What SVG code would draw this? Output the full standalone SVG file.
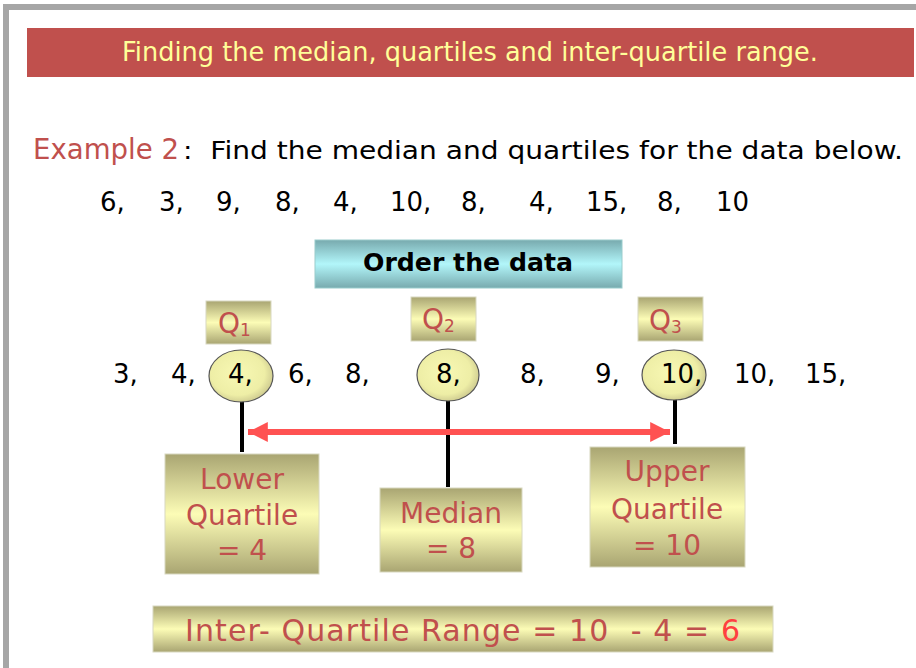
<svg xmlns="http://www.w3.org/2000/svg" width="916" height="668" viewBox="0 0 916 668">
<defs>
<linearGradient id="khaki" x1="0" y1="0" x2="0" y2="1">
<stop offset="0" stop-color="#A9A572"/>
<stop offset="0.5" stop-color="#FCFCB6"/>
<stop offset="1" stop-color="#A9A572"/>
</linearGradient>
<linearGradient id="teal" x1="0" y1="0" x2="0" y2="1">
<stop offset="0" stop-color="#78AAAE"/>
<stop offset="0.5" stop-color="#B2F6FA"/>
<stop offset="1" stop-color="#78AAAE"/>
</linearGradient>
<radialGradient id="oval" cx="0.45" cy="0.45" r="0.6">
<stop offset="0" stop-color="#F8F8B4"/>
<stop offset="0.7" stop-color="#EEEEA6"/>
<stop offset="1" stop-color="#C8C48C"/>
</radialGradient>
<marker id="ah" viewBox="0 0 10 10" refX="10" refY="5" markerWidth="3.3" markerHeight="3.3" orient="auto-start-reverse" markerUnits="strokeWidth">
<path d="M0,0 L10,5 L0,10 Z" fill="#FF5252"/>
</marker>
</defs>
<style>
text{font-family:"DejaVu Sans","Liberation Sans",sans-serif;}
.blk{fill:#000;font-size:26px;}
.red{fill:#C0504D;}
.box{fill:url(#khaki);stroke:#D8D8C0;stroke-width:1;}
.ov{fill:url(#oval);stroke:#555;stroke-width:1.2;}
.stem{stroke:#000;stroke-width:4;fill:none;}
.lbl{fill:#C0504D;font-size:28px;text-anchor:middle;}
.q{fill:#C0504D;font-size:28px;}
</style>
<rect x="0" y="0" width="916" height="668" fill="#fff"/>
<rect x="3" y="4" width="913" height="6" fill="#A6A6A6"/>
<rect x="3" y="4" width="6" height="664" fill="#A6A6A6"/>

<g id="title">
<rect x="27" y="28" width="887" height="49" fill="#C0504D"/>
<text x="122" y="61" font-size="27" fill="#FFFF99" textLength="696" lengthAdjust="spacingAndGlyphs">Finding the median, quartiles and inter-quartile range.</text>
</g>

<g id="question">
<text x="33" y="159" font-size="29" class="red" textLength="146" lengthAdjust="spacingAndGlyphs">Example 2</text>
<text x="183" y="159" font-size="25" fill="#000" textLength="720" lengthAdjust="spacingAndGlyphs" xml:space="preserve">:  Find the median and quartiles for the data below.</text>
</g>

<g id="data">
<text class="blk" y="211"><tspan x="100">6,</tspan><tspan x="159">3,</tspan><tspan x="216">9,</tspan><tspan x="275">8,</tspan><tspan x="333">4,</tspan><tspan x="390">10,</tspan><tspan x="461">8,</tspan><tspan x="529">4,</tspan><tspan x="586">15,</tspan><tspan x="657">8,</tspan><tspan x="716">10</tspan></text>
</g>

<g id="order">
<rect x="315" y="240" width="307" height="48" fill="url(#teal)" stroke="#9CC" stroke-width="1"/>
<text x="363" y="271" font-size="25" font-weight="bold" fill="#000" textLength="210" lengthAdjust="spacingAndGlyphs">Order the data</text>
</g>

<g id="q1">
<rect class="box" x="206" y="301" width="65" height="43"/>
<text x="218" y="333" class="q">Q<tspan font-size="17" dy="3">1</tspan></text>
</g>
<g id="q2">
<rect class="box" x="411" y="297" width="65" height="44"/>
<text x="422" y="329" class="q">Q<tspan font-size="17" dy="3">2</tspan></text>
</g>
<g id="q3">
<rect class="box" x="638" y="297" width="65" height="44"/>
<text x="649" y="330" class="q">Q<tspan font-size="17" dy="3">3</tspan></text>
</g>

<g id="connectors">
<line class="stem" x1="242" y1="400" x2="242" y2="452"/>
<line class="stem" x1="448" y1="399" x2="448" y2="487"/>
<line class="stem" x1="675" y1="399" x2="675" y2="444"/>
<line x1="248" y1="432" x2="670" y2="432" stroke="#FF5252" stroke-width="6" marker-start="url(#ah)" marker-end="url(#ah)"/>
</g>

<g id="sorted">
<ellipse class="ov" cx="241" cy="376" rx="32" ry="26"/>
<ellipse class="ov" cx="448" cy="375" rx="31" ry="26"/>
<ellipse class="ov" cx="674" cy="375" rx="32" ry="25"/>
<text class="blk" y="383"><tspan x="113">3,</tspan><tspan x="171">4,</tspan><tspan x="228">4,</tspan><tspan x="288">6,</tspan><tspan x="345">8,</tspan><tspan x="436">8,</tspan><tspan x="520">8,</tspan><tspan x="595">9,</tspan><tspan x="661">10,</tspan><tspan x="734">10,</tspan><tspan x="805">15,</tspan></text>
</g>

<g id="lower">
<rect class="box" x="165" y="454" width="154" height="120"/>
<text class="lbl" x="242" y="489">Lower</text>
<text class="lbl" x="242" y="525">Quartile</text>
<text class="lbl" x="242" y="560">= 4</text>
</g>
<g id="median">
<rect class="box" x="380" y="488" width="142" height="84"/>
<text class="lbl" x="451" y="523">Median</text>
<text class="lbl" x="451" y="558">= 8</text>
</g>
<g id="upper">
<rect class="box" x="590" y="447" width="155" height="120"/>
<text class="lbl" x="667" y="481">Upper</text>
<text class="lbl" x="667" y="519">Quartile</text>
<text class="lbl" x="667" y="555">= 10</text>
</g>

<g id="iqr">
<rect class="box" x="153" y="606" width="620" height="46"/>
<text x="185" y="641" font-size="30" class="red" textLength="555" lengthAdjust="spacing" xml:space="preserve">Inter- Quartile Range = 10  - 4 = <tspan fill="#FF4040">6</tspan></text>
</g>
</svg>
